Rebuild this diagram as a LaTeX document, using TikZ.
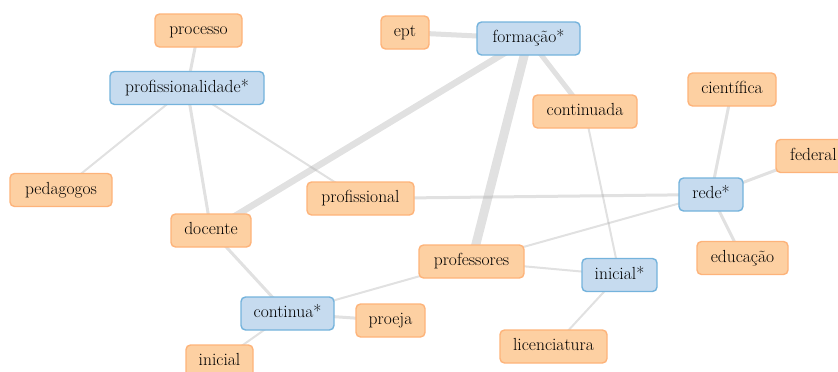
\documentclass[tikz,border=0pt]{standalone}
\usetikzlibrary{backgrounds}
\definecolor{termfill}{HTML}{FDD0A2}
\definecolor{termline}{HTML}{FDB37A}
\definecolor{stemfill}{HTML}{C6DBEF}
\definecolor{stemline}{HTML}{74B3DC}
\definecolor{linkgray}{HTML}{A8A8A8}
\tikzset{
  box/.style={rounded corners=4.5pt, line width=1.4pt, inner xsep=4pt,
    minimum height=33pt, text height=11.5pt, text depth=3.5pt,
    font=\fontsize{17.5}{20}\selectfont},
  term/.style={box, fill=termfill, draw=termline},
  stem/.style={box, fill=stemfill, draw=stemline},
  link/.style={draw=linkgray, draw opacity=0.35, line cap=butt},
  w1/.style={link, line width=2pt},
  w2/.style={link, line width=3pt},
  w3/.style={link, line width=5pt},
  w4/.style={link, line width=6.5pt},
  w5/.style={link, line width=9pt},
}
\begin{document}
\begin{tikzpicture}[x=1pt, y=-1pt]
\useasboundingbox (0,0) rectangle (838,372);

% terms
\node[term, minimum width=87pt] (processo) at (198.5,30.5) {processo};
\node[stem, minimum width=154pt] (profissionalidade) at (187,88) {profissionalidade*};
\node[term, minimum width=48pt] (ept) at (405,32.5) {ept};
\node[stem, minimum width=103pt] (formacao) at (528.5,38.5) {forma\c{c}\~{a}o*};
\node[term, minimum width=104pt] (continuada) at (585,111.5) {continuada};
\node[term, minimum width=88pt] (cientifica) at (732,89.5) {cient\'{\i}fica};
\node[term, minimum width=75pt] (federal) at (813.5,156) {federal};
\node[stem, minimum width=64pt] (rede) at (711,194.5) {rede*};
\node[term, minimum width=91pt] (educacao) at (742.5,258) {educa\c{c}\~{a}o};
\node[term, minimum width=102pt] (pedagogos) at (61,190) {pedagogos};
\node[term, minimum width=107pt] (profissional) at (360.5,198.5) {profissional};
\node[term, minimum width=80pt] (docente) at (211,230.5) {docente};
\node[term, minimum width=105pt] (professores) at (471.5,261.5) {professores};
\node[stem, minimum width=75pt] (inicialstem) at (619.5,275) {inicial*};
\node[stem, minimum width=93pt] (continua) at (287.5,313.5) {continua*};
\node[term, minimum width=69pt] (proeja) at (390.5,320.5) {proeja};
\node[term, minimum width=67pt] (inicial) at (219.5,361.5) {inicial};
\node[term, minimum width=107pt] (licenciatura) at (553.5,346.5) {licenciatura};

% co-occurrence links, drawn beneath the boxes
\begin{scope}[on background layer]
  \path[w2] (processo.center) -- (profissionalidade.center);
  \path[w1] (profissionalidade.center) -- (pedagogos.center);
  \path[w2] (profissionalidade.center) -- (docente.center);
  \path[w1] (profissionalidade.center) -- (profissional.center);
  \path[w3] (ept.center) -- (formacao.center);
  \path[w4] (formacao.center) -- (docente.center);
  \path[w5] (formacao.center) -- (professores.center);
  \path[w3] (formacao.center) -- (continuada.center);
  \path[w1] (continuada.center) -- (inicialstem.center);
  \path[w2] (profissional.center) -- (rede.center);
  \path[w2] (rede.center) -- (cientifica.center);
  \path[w2] (rede.center) -- (federal.center);
  \path[w2] (rede.center) -- (educacao.center);
  \path[w1] (rede.center) -- (professores.center);
  \path[w2] (docente.center) -- (continua.center);
  \path[w1] (continua.center) -- (professores.center);
  \path[w2] (continua.center) -- (proeja.center);
  \path[w1] (continua.center) -- (inicial.center);
  \path[w1] (professores.center) -- (inicialstem.center);
  \path[w1] (inicialstem.center) -- (licenciatura.center);
\end{scope}
\end{tikzpicture}
\end{document}
